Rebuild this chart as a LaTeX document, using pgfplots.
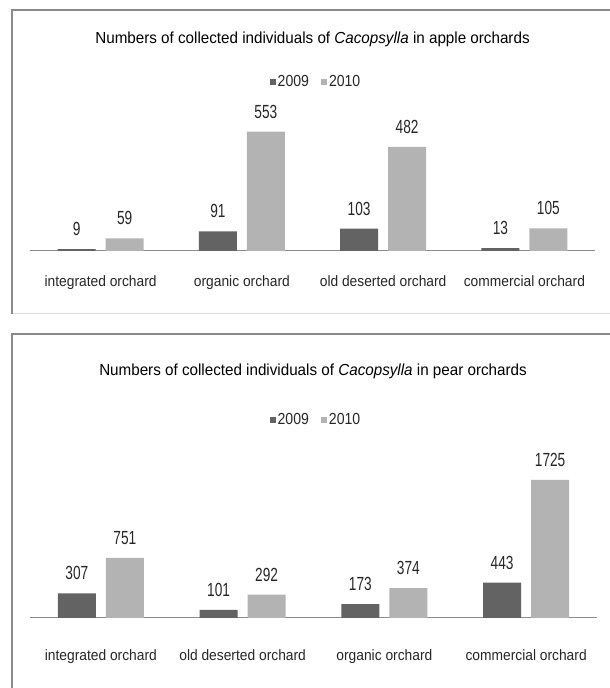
\documentclass[border=0pt]{standalone}
\usepackage{pgfplots}
\pgfplotsset{compat=1.18}
\usepackage{fontspec}
\setmainfont{Liberation Sans}
\newfontfamily\titlefont[FakeStretch=0.95]{Liberation Sans}
\newfontfamily\numfont[FakeStretch=0.72]{Liberation Sans}
\newfontfamily\legfont[FakeStretch=0.88]{Liberation Sans}
\newfontfamily\labfont[FakeStretch=0.92]{Liberation Sans}
\definecolor{darkbar}{HTML}{636363}
\definecolor{lightbar}{HTML}{B3B3B3}
\definecolor{axisgray}{HTML}{8C8C8C}
\definecolor{bordergray}{HTML}{8A8A8A}
\definecolor{shadowgray}{HTML}{DCDCDC}

\pgfplotsset{
 orchard/.style={
  ybar=10pt, scale only axis, ymin=0, xmin=-0.5, xmax=3.5,
  axis y line=none, axis x line*=bottom,
  x axis line style={draw=axisgray, line width=1pt, -},
  xtick={0,1,2,3}, major tick length=0pt,
  xticklabel style={anchor=base, font=\labfont\fontsize{15}{16}\selectfont, text=black!85},
  bar width=38pt, clip=false,
  /pgf/number format/assume math mode=true,
  /pgf/number format/1000 sep={},
  nodes near coords,
  every node near coord/.append style={anchor=base, yshift=13.5pt, inner sep=0pt, font=\numfont\fontsize{19}{20}\selectfont, text=black!85},
  legend columns=-1,
  legend style={draw=none, fill=none, font=\legfont\fontsize{16}{18}\selectfont, text=black!85, anchor=center, /tikz/every even column/.append style={column sep=10pt}},
 }
}

\begin{document}
\begin{tikzpicture}[x=1pt,y=1pt]
\useasboundingbox (0,0) rectangle (610,688);
% panel frames
\draw[shadowgray, line width=1pt] (12,374) -- (610,374);
\draw[bordergray, line width=1.6pt] (11.7,374) -- (11.7,678) -- (610,678);
\draw[bordergray, line width=1.6pt] (11.7,0) -- (11.7,354) -- (610,354);

% titles
\node[anchor=base, font=\titlefont\fontsize{16}{18}\selectfont] at (312.5,644) {Numbers of collected individuals of \textit{Cacopsylla} in apple orchards};
\node[anchor=base, font=\titlefont\fontsize{16}{18}\selectfont] at (313,312) {Numbers of collected individuals of \textit{Cacopsylla} in pear orchards};

% apple orchards
\begin{axis}[orchard,
  at={(30pt,437pt)}, anchor=south west,
  width=565pt, height=129.6pt, ymax=600,
  xticklabels={integrated orchard, organic orchard, old deserted orchard, commercial orchard},
  xticklabel style={yshift=-36pt},
  legend style={at={(0.5062,1.304)}},
  legend image code/.code={\fill[#1, draw=none] (0pt,-3pt) rectangle (6pt,3pt);},
]
\addplot[fill=darkbar, draw=none] coordinates {(0,9) (1,91) (2,103) (3,13)};
\addplot[fill=lightbar, draw=none] coordinates {(0,59) (1,553) (2,482) (3,105)};
\legend{2009, 2010}
\end{axis}

% pear orchards
\begin{axis}[orchard,
  at={(30pt,70pt)}, anchor=south west,
  width=567pt, height=160pt, ymax=2000,
  xticklabels={integrated orchard, old deserted orchard, organic orchard, commercial orchard},
  xticklabel style={yshift=-42pt},
  legend style={at={(0.5044,1.2375)}},
  legend image code/.code={\fill[#1, draw=none] (0pt,-3pt) rectangle (6pt,3pt);},
]
\addplot[fill=darkbar, draw=none] coordinates {(0,307) (1,101) (2,173) (3,443)};
\addplot[fill=lightbar, draw=none] coordinates {(0,751) (1,292) (2,374) (3,1725)};
\legend{2009, 2010}
\end{axis}
\end{tikzpicture}
\end{document}
